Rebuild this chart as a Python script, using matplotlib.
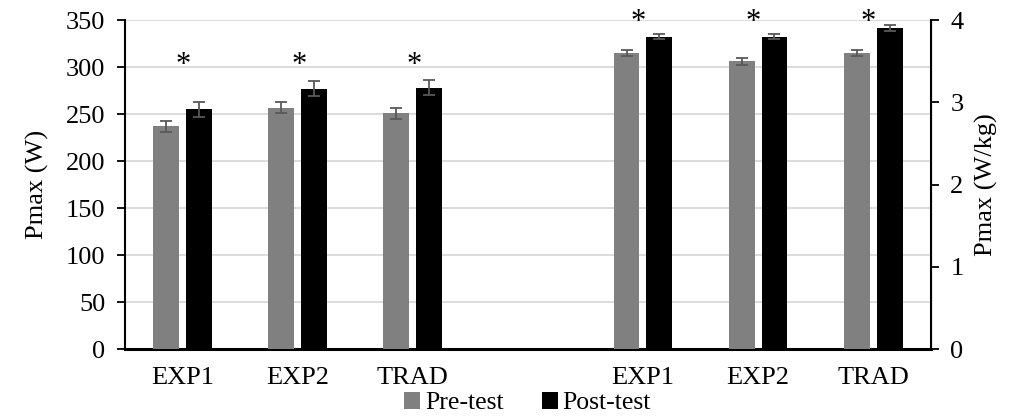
import numpy as np
import matplotlib
matplotlib.use('Agg')
import matplotlib.pyplot as plt

plt.rcParams['font.family'] = ['Liberation Serif', 'DejaVu Serif']

groups = ['EXP1', 'EXP2', 'TRAD']
# absolute power (W), left axis
pre_w = [237, 257, 251]
pre_w_err = [6, 6, 6]
post_w = [255, 277, 278]
post_w_err = [8, 8, 8]
# relative power (W/kg), right axis
pre_kg = [3.60, 3.50, 3.60]
pre_kg_err = [0.04, 0.04, 0.04]
post_kg = [3.80, 3.80, 3.90]
post_kg_err = [0.035, 0.035, 0.035]

star_w = 302
star_kg = 3.97

xl = np.arange(3)
xr = np.arange(4, 7)
w = 0.225
off = 0.1425
err_kw = dict(ecolor='#595959', elinewidth=1.3, capsize=4.5, capthick=1.3)
fs = 19

fig = plt.figure(figsize=(10.15, 4.19), dpi=100)
ax = fig.add_axes([0.123, 0.167, 0.794, 0.785])
ax2 = ax.twinx()

ax.bar(xl - off, pre_w, w, yerr=pre_w_err, color='#808080', error_kw=err_kw, zorder=3, label='Pre-test')
ax.bar(xl + off, post_w, w, yerr=post_w_err, color='#000000', error_kw=err_kw, zorder=3, label='Post-test')
ax2.bar(xr - off, pre_kg, w, yerr=pre_kg_err, color='#808080', error_kw=err_kw, zorder=3)
ax2.bar(xr + off, post_kg, w, yerr=post_kg_err, color='#000000', error_kw=err_kw, zorder=3)

for x in xl:
    ax.text(x + 0.01, star_w, '*', ha='center', va='center', fontsize=22)
for x in xr:
    ax2.text(x - 0.04, star_kg, '*', ha='center', va='center', fontsize=22)

ax.set_xlim(-0.5, 6.5)
ax.set_ylim(0, 350)
ax.set_yticks(np.arange(0, 351, 50))
ax2.set_ylim(0, 4)
ax2.set_yticks(np.arange(0, 5, 1))
ax.set_xticks(list(xl) + list(xr))
ax.set_xticklabels(groups + groups)

ax.yaxis.grid(True, color='#d9d9d9', linewidth=1.3, zorder=0)
ax.set_axisbelow(True)

for a in (ax, ax2):
    a.spines['top'].set_visible(False)
    a.tick_params(axis='y', labelsize=fs, length=6, width=1.3, direction='out', pad=8)
ax.spines['left'].set_linewidth(1.5)
ax2.spines['right'].set_linewidth(1.5)
ax.spines['bottom'].set_linewidth(2.2)
ax2.spines['left'].set_visible(False)
ax2.spines['bottom'].set_visible(False)
ax.tick_params(axis='x', labelsize=fs, length=0, pad=13)

ax.set_ylabel('Pmax (W)', fontsize=fs, labelpad=12)
ax2.set_ylabel('Pmax (W/kg)', fontsize=fs, labelpad=8)

ax.legend(loc='upper center', bbox_to_anchor=(0.5, -0.1), ncol=2, frameon=False,
          fontsize=18.5, handlelength=0.6, handleheight=0.6, handletextpad=0.2,
          columnspacing=1.5, borderaxespad=0)

fig.savefig('out.png', dpi=100)
